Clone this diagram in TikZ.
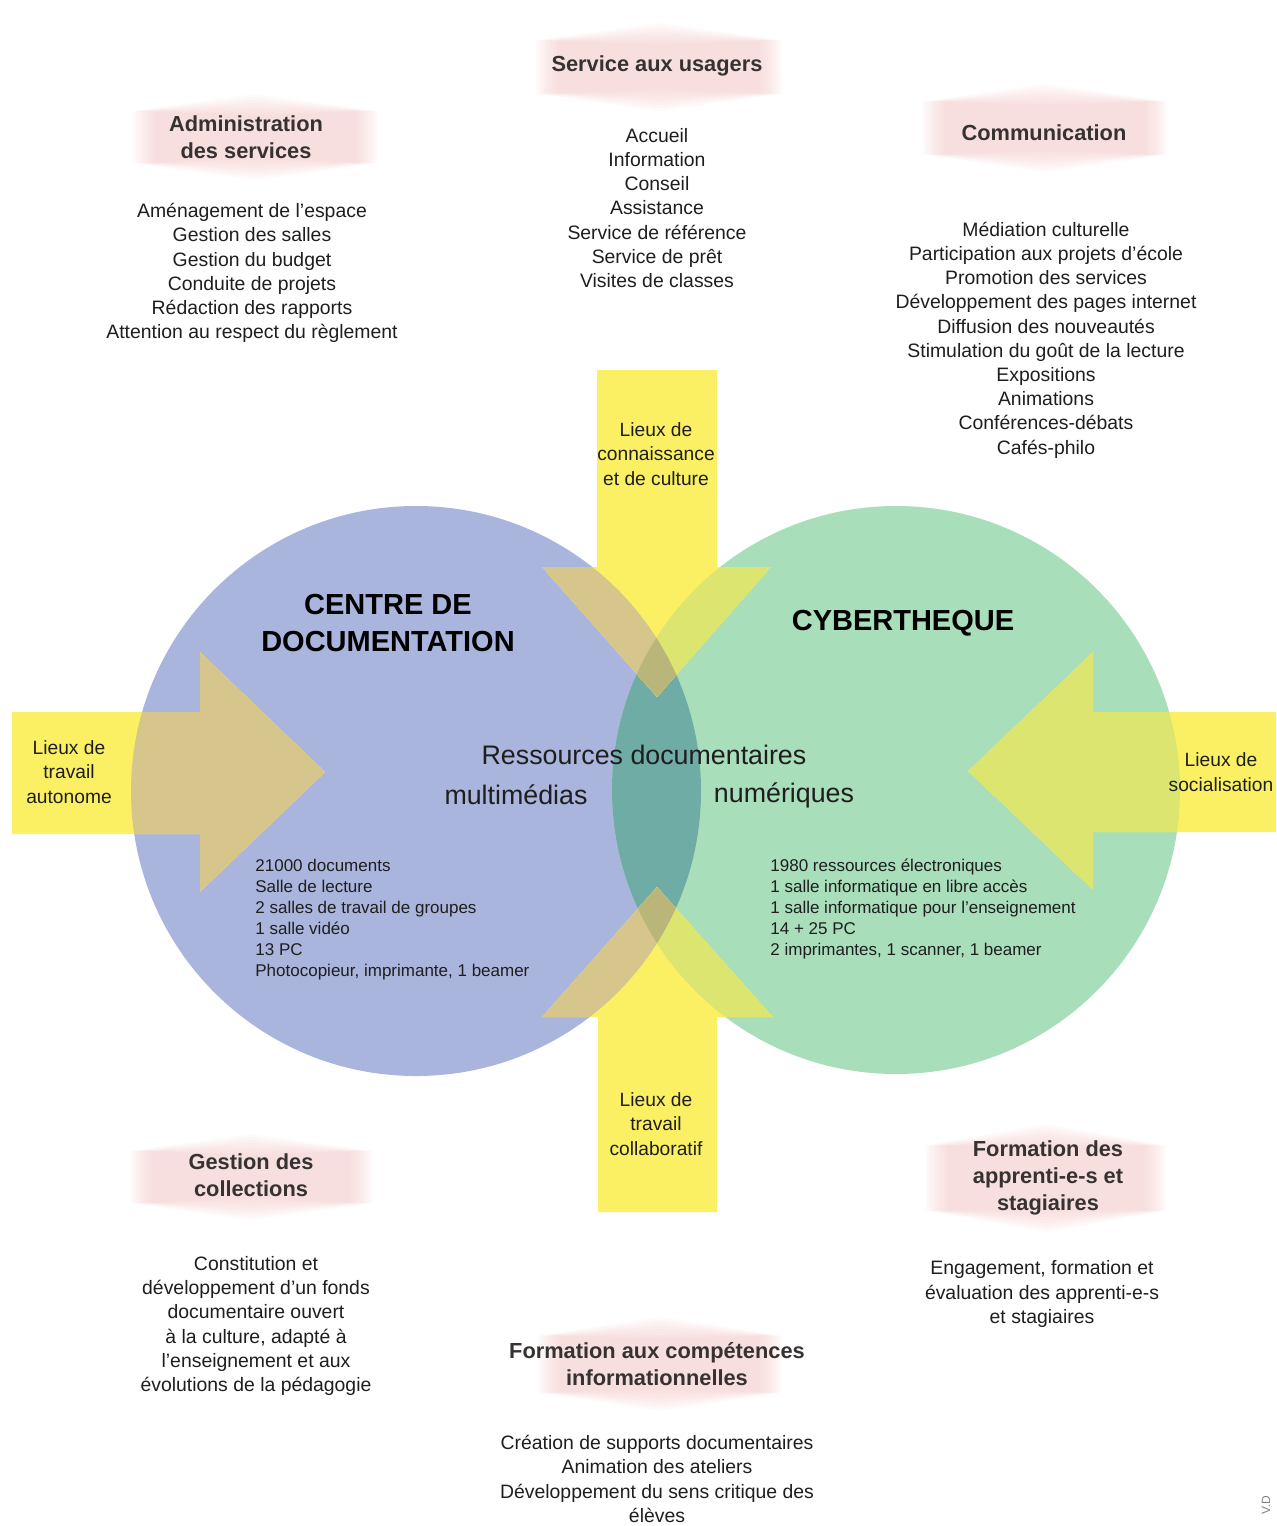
\documentclass[tikz,border=0pt]{standalone}
\usepackage{fontspec}
\setmainfont{Liberation Sans}
\definecolor{cblue}{RGB}{170,181,221}
\definecolor{cgreen}{RGB}{168,222,186}
\definecolor{cteal}{RGB}{112,172,166}
\definecolor{ayel}{RGB}{251,240,100}
\definecolor{atan}{RGB}{214,198,140}
\definecolor{agreen}{RGB}{220,229,112}
\definecolor{aolive}{RGB}{186,182,122}
\definecolor{pinkc}{RGB}{244,200,200}
\definecolor{txt}{RGB}{30,30,30}
\definecolor{hdr}{RGB}{55,50,50}
\newcommand\pinkhex[4]{%
  \foreach \d in {0,3,...,21}{%
    \fill[pinkc, opacity=0.09] ({#1-#3+\d},{#2-0.6*#4}) -- ({#1},{#2-#4+\d}) -- ({#1+#3-\d},{#2-0.6*#4})
      -- ({#1+#3-\d},{#2+0.6*#4}) -- ({#1},{#2+#4-\d}) -- ({#1-#3+\d},{#2+0.6*#4}) -- cycle;}%
}
\tikzset{
  arrowshapes/.style={insert path={
    (12,712) -- (200,712) -- (200,652) -- (325,772) -- (200,892) -- (200,834) -- (12,834) -- cycle
    (1276,712) -- (1093,712) -- (1093,652) -- (968,771) -- (1093,890) -- (1093,832) -- (1276,832) -- cycle
    (597,370) -- (717,370) -- (717,567) -- (771,567) -- (657,697) -- (542,567) -- (597,567) -- cycle
    (598,1212) -- (717,1212) -- (717,1017) -- (773,1017) -- (657,887) -- (542,1017) -- (598,1017) -- cycle}},
  lst/.style={font=\fontsize{9.7}{12.1}\selectfont, text=txt, align=center, inner sep=0pt},
  hdrs/.style={font=\bfseries\fontsize{10.9}{13.5}\selectfont, text=hdr, align=center, inner sep=0pt},
  ylab/.style={font=\fontsize{9.6}{12.2}\selectfont, text=txt, align=center, inner sep=0pt},
  smalllist/.style={font=\fontsize{8.5}{10.5}\selectfont, text=txt, align=left, inner sep=0pt, anchor=west},
  bigtitle/.style={font=\bfseries\fontsize{14.5}{18.5}\selectfont, text=black, align=center, inner sep=0pt},
  midtext/.style={font=\fontsize{13.4}{16}\selectfont, text=txt, inner sep=0pt},
}
\begin{document}
\begin{tikzpicture}[x=0.5pt,y=-0.5pt]
\useasboundingbox (0,0) rectangle (1276,1526);
\fill[white] (0,0) rectangle (1276,1526);
% circles
\fill[cblue] (416,791) circle[radius=142.5pt];
\fill[cgreen] (896,790) circle[radius=142pt];
\begin{scope}
  \clip (416,791) circle[radius=142.5pt];
  \fill[cteal] (896,790) circle[radius=142pt];
\end{scope}
% arrows
\fill[ayel, arrowshapes];
\begin{scope}
  \clip[arrowshapes];
  \fill[atan] (416,791) circle[radius=142.5pt];
  \fill[agreen] (896,790) circle[radius=142pt];
  \clip (416,791) circle[radius=142.5pt];
  \fill[aolive] (896,790) circle[radius=142pt];
\end{scope}
% pink header shapes
\pinkhex{659}{67}{123}{44}
\pinkhex{255}{137}{122}{43}
\pinkhex{1045}{128}{122}{44}
\pinkhex{251}{1177}{121}{43}
\pinkhex{1046}{1178}{120}{54}
\pinkhex{660}{1364}{122}{47}
% headers
\node[hdrs] (hserv) at (657,66) {Service aux usagers};
\node[hdrs] (hadmin) at (246,137) {Administration\\des services};
\node[hdrs] (hcomm) at (1044,133) {Communication};
\node[hdrs] (hgest) at (251,1175) {Gestion des\\collections};
\node[hdrs] (happ) at (1048,1178) {Formation des\\apprenti-e-s et\\stagiaires};
\node[hdrs] (hcomp) at (657,1364) {Formation aux compétences\\informationnelles};
% lists
\node[lst] (lserv) at (657,208) {Accueil\\Information\\Conseil\\Assistance\\Service de référence\\Service de prêt\\Visites de classes};
\node[lst] (ladmin) at (252,273) {Aménagement de l’espace\\Gestion des salles\\Gestion du budget\\Conduite de projets\\Rédaction des rapports\\Attention au respect du règlement};
\node[lst] (lcomm) at (1046,340) {Médiation culturelle\\Participation aux projets d’école\\Promotion des services\\Développement des pages internet\\Diffusion des nouveautés\\Stimulation du goût de la lecture\\Expositions\\Animations\\Conférences-débats\\Cafés-philo};
\node[lst] (lgest) at (256,1326) {Constitution et\\développement d’un fonds\\documentaire ouvert\\à la culture, adapté à\\l’enseignement et aux\\évolutions de la pédagogie};
\node[lst] (lapp) at (1042,1294) {Engagement, formation et\\évaluation des apprenti-e-s\\et stagiaires};
\node[lst] (lcomp) at (657,1479) {Création de supports documentaires\\Animation des ateliers\\Développement du sens critique des\\élèves};
% yellow labels
\node[ylab] (yleft) at (69,772) {Lieux de\\travail\\autonome};
\node[ylab] (yright) at (1221,772) {Lieux de\\socialisation};
\node[ylab] (ytop) at (656,454) {Lieux de\\connaissance\\et de culture};
\node[ylab] (ybot) at (656,1124) {Lieux de\\travail\\collaboratif};
% circle titles
\node[bigtitle] (tcdi) at (388,623) {CENTRE DE\\DOCUMENTATION};
\node[bigtitle] (tcyb) at (903,623) {CYBERTHEQUE};
\node[midtext] (mres) at (644,755) {Ressources documentaires};
\node[midtext] (mmul) at (516,795) {multimédias};
\node[midtext] (mnum) at (784,795) {numériques};
% small lists
\node[smalllist] (scdi) at (255,920) {21000 documents\\Salle de lecture\\2 salles de travail de groupes\\1 salle vidéo\\13 PC\\Photocopieur, imprimante, 1 beamer};
\node[smalllist] (scyb) at (770,909) {1980 ressources électroniques\\1 salle informatique en libre accès\\1 salle informatique pour l’enseignement\\14 + 25 PC\\2 imprimantes, 1 scanner, 1 beamer};
% signature
\node[font=\fontsize{6}{7}\selectfont, text=gray, rotate=90, inner sep=0pt] (sig) at (1266,1505) {V.D};
\end{tikzpicture}
\end{document}
